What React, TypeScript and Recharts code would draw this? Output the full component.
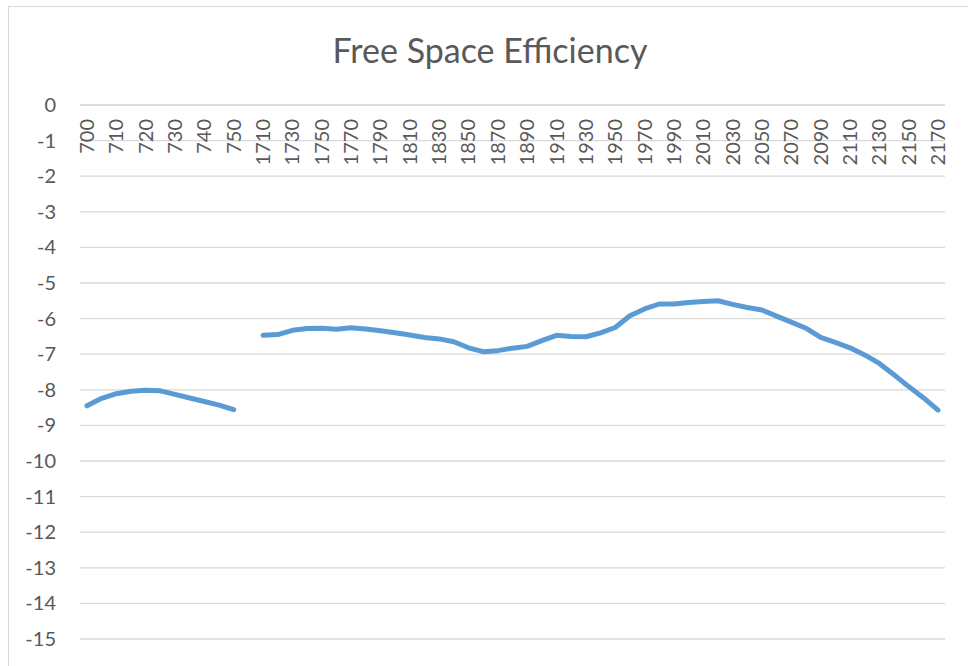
import { CartesianGrid, Line, LineChart, XAxis, YAxis } from 'recharts';

// wavelength categories; the blank one between the two runs keeps the gap in the line
const categories = [
  '700', '705', '710', '715', '720', '725', '730', '735', '740', '745', '750',
  '1700',
  '1710', '1720', '1730', '1740', '1750', '1760', '1770', '1780', '1790', '1800',
  '1810', '1820', '1830', '1840', '1850', '1860', '1870', '1880', '1890', '1900',
  '1910', '1920', '1930', '1940', '1950', '1960', '1970', '1980', '1990', '2000',
  '2010', '2020', '2030', '2040', '2050', '2060', '2070', '2080', '2090', '2100',
  '2110', '2120', '2130', '2140', '2150', '2160', '2170',
];

const lowBand = [-8.45, -8.24, -8.11, -8.04, -8.01, -8.03, -8.13, -8.23, -8.33, -8.43, -8.56];

const highBand = [
  -6.47, -6.45, -6.33, -6.28, -6.27, -6.3, -6.26, -6.29, -6.34, -6.4,
  -6.46, -6.53, -6.57, -6.65, -6.82, -6.93, -6.9, -6.83, -6.78, -6.62,
  -6.47, -6.5, -6.51, -6.4, -6.25, -5.92, -5.73, -5.59, -5.59, -5.55,
  -5.52, -5.5, -5.6, -5.69, -5.76, -5.93, -6.1, -6.27, -6.53, -6.67,
  -6.82, -7.02, -7.26, -7.58, -7.91, -8.22, -8.57,
];

const yTicks = [0, -1, -2, -3, -4, -5, -6, -7, -8, -9, -10, -11, -12, -13, -14, -15];

const values: (number | null)[] = [...lowBand, null, ...highBand];
const data = categories.map((wl, i) => ({ wl, eff: values[i] }));

const TEXT = '#595959';
const GRID = '#d9d9d9';
const FONT = 'Lato, "Open Sans", sans-serif';

function TopTick({ x, payload }: { x?: number; payload?: { value: string } }) {
  const ty = 119;
  return (
    <text
      x={x}
      y={ty}
      transform={`rotate(-90, ${x}, ${ty})`}
      textAnchor="end"
      dy="0.35em"
      fill={TEXT}
      fontSize={20}
      fontFamily={FONT}
    >
      {payload?.value}
    </text>
  );
}

function LeftTick({ y, payload }: { y?: number; payload?: { value: number } }) {
  return (
    <text x={56} y={y} textAnchor="end" dy="0.35em" fill={TEXT} fontSize={20} fontFamily={FONT}>
      {payload?.value}
    </text>
  );
}

export default function App() {
  return (
    <div style={{ position: 'absolute', left: 0, top: 0, width: 968, height: 666, overflow: 'hidden' }}>
      <style>{'body{margin:0;overflow:hidden}'}</style>
      <div
        style={{
          position: 'absolute',
          left: 8,
          top: 6,
          width: 1000,
          height: 1000,
          border: `1px solid ${GRID}`,
        }}
      />
      <div
        style={{
          position: 'absolute',
          left: 0,
          top: 33,
          width: 980,
          textAlign: 'center',
          fontFamily: FONT,
          fontSize: 34,
          lineHeight: '34px',
          color: TEXT,
        }}
      >
        Free Space Efficiency
      </div>
      <div style={{ position: 'absolute', left: 0, top: 0 }}>
        <LineChart width={968} height={666} data={data} margin={{ top: 0, right: 23, bottom: 27, left: 0 }}>
          <CartesianGrid horizontal vertical={false} stroke={GRID} strokeWidth={1.3} />
          <XAxis
            dataKey="wl"
            orientation="top"
            height={105}
            interval={1}
            padding={{ left: 7, right: 7 }}
            axisLine={{ stroke: GRID, strokeWidth: 1.3 }}
            tickLine={false}
            tick={<TopTick />}
          />
          <YAxis
            type="number"
            domain={[-15, 0]}
            ticks={yTicks}
            interval={0}
            width={80}
            axisLine={false}
            tickLine={false}
            tick={<LeftTick />}
          />
          <Line
            type="linear"
            dataKey="eff"
            stroke="#5b9bd5"
            strokeWidth={5}
            strokeLinecap="round"
            strokeLinejoin="round"
            dot={false}
            activeDot={false}
            isAnimationActive={false}
          />
        </LineChart>
      </div>
    </div>
  );
}
